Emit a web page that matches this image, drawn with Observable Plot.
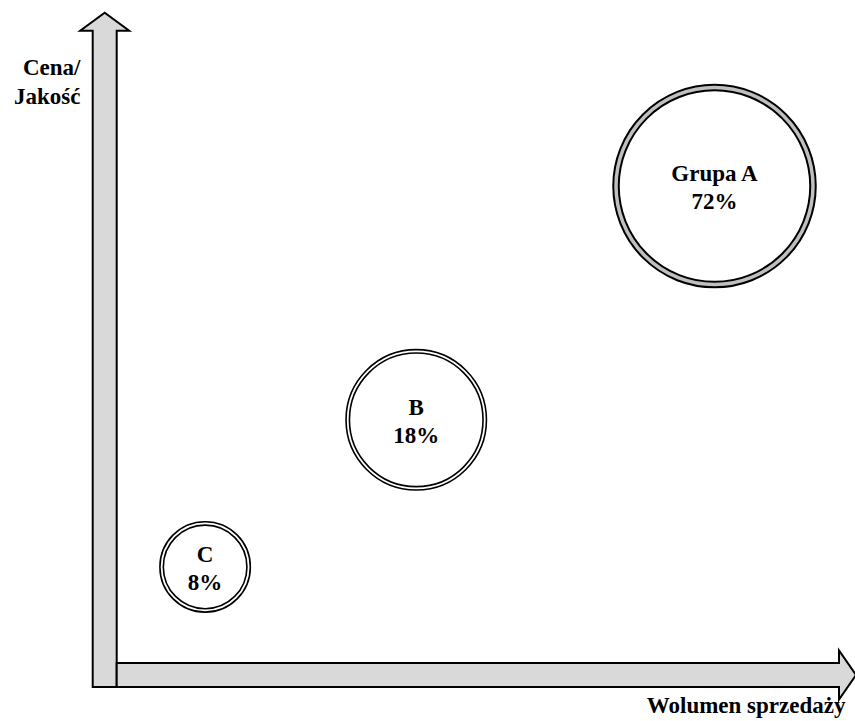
<!DOCTYPE html>
<html>
<head>
<meta charset="utf-8">
<script src="https://cdn.jsdelivr.net/npm/d3@7"></script>
<script src="https://cdn.jsdelivr.net/npm/@observablehq/plot@0.6"></script>
<style>
  html, body { margin: 0; padding: 0; background: #fff; }
  #chart svg { display: block; }
  #chart svg text { font-family: "Liberation Serif", "Times New Roman", "DejaVu Serif", serif !important; font-weight: bold; }
</style>
</head>
<body>
<div id="chart"></div>
<script>
// Data
const categories = ["Grupa A", "B", "C"];
const shares = [72, 18, 8];               // percent share
const volume = [81.1, 41.4, 13.3];        // x: Wolumen sprzedaży (relative units 0–100)
const priceQuality = [73.9, 38.6, 16.4];  // y: Cena/Jakość (relative units 0–100)
const xLabel = "Wolumen sprzedaży";
const yLabel = "Cena/\nJakość";

const data = categories.map((c, i) => ({
  group: c, share: shares[i], x: volume[i], y: priceQuality[i],
  label: c + "\n" + shares[i] + "%"
}));

const W = 855, H = 721;
const FONT = "Liberation Serif";

// Block-arrow axes drawn from the scales
function arrowAxes(index, scales) {
  const {x, y} = scales;
  const x0 = x(0), y0 = y(0), xEnd = x(100), yEnd = y(100);
  const sw = 12;      // shaft half-width
  const hw = 24.5;    // head half-width
  const hl = 17;      // head length
  const g = d3.create("svg:g");
  const vert = [
    [x0 - sw, y0 + sw], [x0 - sw, yEnd + hl + 1], [x0 - hw, yEnd + hl + 1],
    [x0, yEnd], [x0 + hw, yEnd + hl + 1], [x0 + sw, yEnd + hl + 1], [x0 + sw, y0 + sw]
  ];
  const horiz = [
    [x0 + sw, y0 - sw], [xEnd - hl, y0 - sw], [xEnd - hl, y0 - hw],
    [xEnd, y0], [xEnd - hl, y0 + hw], [xEnd - hl, y0 + sw], [x0 + sw, y0 + sw]
  ];
  for (const pts of [vert, horiz]) {
    g.append("path")
      .attr("d", "M" + pts.map(p => p.join(",")).join("L") + "Z")
      .attr("fill", "#d9d9d9")
      .attr("stroke", "#000")
      .attr("stroke-width", 2)
      .attr("stroke-linejoin", "miter");
  }
  return g.node();
}

const first = data.slice(0, 1);
const rest = data.slice(1);

const chart = Plot.plot({
  width: W,
  height: H,
  margin: 0,
  x: {domain: [0, 100], range: [104.7, 856], axis: null},
  y: {domain: [0, 100], range: [675, 12.7], axis: null},
  r: {type: "linear", domain: [8, 18, 72], range: [43.5, 68.5, 98.5]},
  style: {background: "#fff", fontFamily: "Liberation Serif, serif"},
  marks: [
    arrowAxes,
    // Grupa A: black–gray–black ring
    Plot.dot(first, {x: "x", y: "y", r: "share", fill: "white", stroke: "#000", strokeWidth: 7.5}),
    Plot.dot(first, {x: "x", y: "y", r: "share", fill: "none", stroke: "#bfbfbf", strokeWidth: 3.5}),
    // B, C: double black line
    Plot.dot(rest, {x: "x", y: "y", r: "share", fill: "white", stroke: "#000", strokeWidth: 5}),
    Plot.dot(rest, {x: "x", y: "y", r: "share", fill: "none", stroke: "#fff", strokeWidth: 1.8}),
    Plot.text(data, {
      x: "x", y: "y", text: "label",
      fontFamily: FONT, fontWeight: "bold", fontSize: 23,
      lineHeight: 1.22, lineAnchor: "middle", fill: "#000"
    }),
    Plot.text([yLabel], {
      frameAnchor: "top-left", dx: 80, dy: 80, text: d => d,
      textAnchor: "end", lineAnchor: "middle", lineHeight: 1.22,
      fontFamily: FONT, fontWeight: "bold", fontSize: 23, fill: "#000"
    }),
    Plot.text([xLabel], {
      frameAnchor: "bottom-right", dx: -10, dy: -16, text: d => d,
      textAnchor: "end", lineAnchor: "middle",
      fontFamily: FONT, fontWeight: "bold", fontSize: 23, fill: "#000"
    })
  ]
});

document.getElementById("chart").appendChild(chart);
</script>
</body>
</html>
